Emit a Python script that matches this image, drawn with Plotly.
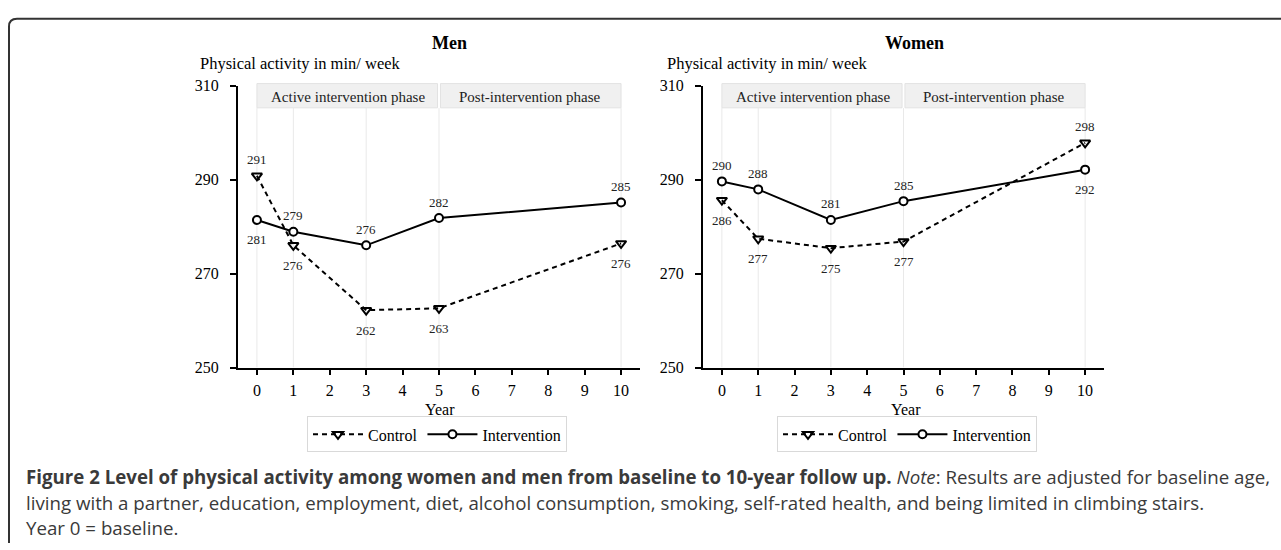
import plotly.graph_objects as go

# ---------------- data ----------------
years = [0, 1, 3, 5, 10]
year_ticks = list(range(0, 11))
y_ticks = [250, 270, 290, 310]

men_control = [290.8, 276.0, 262.2, 262.6, 276.4]
men_control_labels = ["291", "276", "262", "263", "276"]
men_control_pos = ["above", "below", "below", "below", "below"]

men_intervention = [281.4, 278.9, 276.0, 281.8, 285.1]
men_intervention_labels = ["281", "279", "276", "282", "285"]
men_intervention_pos = ["below", "above", "above", "above", "above"]

women_control = [285.6, 277.4, 275.4, 276.8, 297.8]
women_control_labels = ["286", "277", "275", "277", "298"]
women_control_pos = ["below", "below", "below", "below", "above"]

women_intervention = [289.6, 287.9, 281.4, 285.4, 292.1]
women_intervention_labels = ["290", "288", "281", "285", "292"]
women_intervention_pos = ["above", "above", "above", "above", "below"]

phase_names = ["Active intervention phase", "Post-intervention phase"]
phase_start = [0, 5]
phase_end = [5, 10]

panel_titles = ["Men", "Women"]
y_title = "Physical activity in min/ week"
x_title = "Year"

caption_lines = [
    "<b>Figure 2 Level of physical activity among women and men from baseline to 10-year follow up.</b> "
    "<i>Note</i>: Results are adjusted for baseline age,",
    "living with a partner, education, employment, diet, alcohol consumption, smoking, self-rated health, "
    "and being limited in climbing stairs.",
    "Year 0 = baseline.",
]

# ---------------- layout helpers ----------------
W, H = 1281, 550
def px(x):
    return x / W
def py(y):
    return 1 - y / H

SERIF = "Liberation Serif, Times New Roman, serif"
SANS = "Open Sans, Noto Sans, sans-serif"

panels = [
    dict(name="Men", ax="x", ay="y", legend="legend",
         control=men_control, ctl_lab=men_control_labels, ctl_pos=men_control_pos,
         inter=men_intervention, int_lab=men_intervention_labels, int_pos=men_intervention_pos,
         title_x=449, ytitle_x=198, year_x=440, legend_x=437, dom=(238, 640)),
    dict(name="Women", ax="x2", ay="y2", legend="legend2",
         control=women_control, ctl_lab=women_control_labels, ctl_pos=women_control_pos,
         inter=women_intervention, int_lab=women_intervention_labels, int_pos=women_intervention_pos,
         title_x=914, ytitle_x=665, year_x=906, legend_x=907, dom=(703, 1104)),
]

fig = go.Figure()
shapes = []
annotations = []

Y_TOP, Y_BOT = 80, 371

for i, p in enumerate(panels):
    fig.add_trace(go.Scatter(
        x=years, y=p["control"], name="Control", mode="lines+markers",
        xaxis=p["ax"], yaxis=p["ay"], legend=p["legend"],
        line=dict(color="black", width=2, dash="5px,4px"),
        marker=dict(symbol="triangle-down-open", size=9, color="black", line=dict(width=2)),
        cliponaxis=False,
    ))
    fig.add_trace(go.Scatter(
        x=years, y=p["inter"], name="Intervention", mode="lines+markers",
        xaxis=p["ax"], yaxis=p["ay"], legend=p["legend"],
        line=dict(color="black", width=2),
        marker=dict(symbol="circle", size=8, color="white", line=dict(color="black", width=2)),
        cliponaxis=False,
    ))

    xref = p["ax"]
    yref = p["ay"]
    for yr in years:
        shapes.append(dict(type="line", xref=xref, yref=yref, x0=yr, x1=yr, y0=250, y1=305.2,
                           line=dict(color="#e9e9e9", width=1), layer="below"))
    for nm, s, e in zip(phase_names, phase_start, phase_end):
        shapes.append(dict(type="rect", xref=xref, yref="paper",
                           x0=s + (0.04 if s > 0 else 0), x1=e - (0.04 if e < 10 else 0),
                           y0=py(103), y1=py(78),
                           fillcolor="#f0f0f0", line=dict(color="#e2e2e2", width=1), layer="above"))
        annotations.append(dict(x=(s + e) / 2, y=py(92), xref=xref, yref="paper",
                                text=nm, showarrow=False, xanchor="center", yanchor="middle",
                                font=dict(family=SERIF, size=15, color="#222")))
    for vals, labs, pos in [(p["control"], p["ctl_lab"], p["ctl_pos"]),
                            (p["inter"], p["int_lab"], p["int_pos"])]:
        for yr, v, lab, ps in zip(years, vals, labs, pos):
            annotations.append(dict(x=yr, y=v, xref=xref, yref=yref, text=lab, showarrow=False,
                                    xanchor="center", yanchor="middle",
                                    yshift=16 if ps == "above" else -20,
                                    font=dict(family=SERIF, size=13, color="#222")))
    annotations.append(dict(x=px(p["title_x"]), y=py(36), xref="paper", yref="paper",
                            text="<b>%s</b>" % panel_titles[i], showarrow=False,
                            xanchor="center", yanchor="middle",
                            font=dict(family=SERIF, size=18, color="black")))
    annotations.append(dict(x=px(p["ytitle_x"]), y=py(57), xref="paper", yref="paper",
                            text=y_title, showarrow=False, xanchor="left", yanchor="middle",
                            font=dict(family=SERIF, size=16.5, color="black")))
    annotations.append(dict(x=px(p["year_x"]), y=py(414), xref="paper", yref="paper",
                            text=x_title, showarrow=False, xanchor="center", yanchor="middle",
                            font=dict(family=SERIF, size=16, color="black")))

axis_common_x = dict(range=[-0.52, 10.52], tickvals=year_ticks, ticktext=[str(t) for t in year_ticks],
                     showline=True, linecolor="black", linewidth=2, ticks="outside", ticklen=5,
                     tickwidth=1.5, tickcolor="black", showgrid=False, zeroline=False,
                     tickfont=dict(family=SERIF, size=16, color="black"), ticklabelstandoff=2)
axis_common_y = dict(range=[250, 310], tickvals=y_ticks, showline=True, linecolor="black", linewidth=2,
                     ticks="outside", ticklen=6, tickwidth=1.5, tickcolor="black", showgrid=False,
                     zeroline=False, tickfont=dict(family=SERIF, size=16, color="black"),
                     ticklabelstandoff=8)

legend_common = dict(orientation="h", xanchor="center", yanchor="middle",
                     bordercolor="#d9d9d9", borderwidth=1, bgcolor="white", itemwidth=50,
                     font=dict(family=SERIF, size=16, color="black"))

m, w = panels[0], panels[1]
fig.update_layout(
    width=W, height=H, margin=dict(l=0, r=0, t=0, b=0),
    paper_bgcolor="white", plot_bgcolor="white",
    xaxis=dict(domain=[px(m["dom"][0]), px(m["dom"][1])], anchor="y", **axis_common_x),
    yaxis=dict(domain=[py(Y_BOT), py(Y_TOP)], anchor="x", **axis_common_y),
    xaxis2=dict(domain=[px(w["dom"][0]), px(w["dom"][1])], anchor="y2", **axis_common_x),
    yaxis2=dict(domain=[py(Y_BOT), py(Y_TOP)], anchor="x2", **axis_common_y),
    legend=dict(x=px(m["legend_x"]), y=py(440), **legend_common),
    legend2=dict(x=px(w["legend_x"]), y=py(440), **legend_common),
)

frame_path = "M %f,%f L %f,%f Q %f,%f %f,%f L %f,%f" % (
    px(9), py(552), px(9), py(19), px(9), py(11), px(17), py(11), px(1283), py(11))
shapes.append(dict(type="path", xref="paper", yref="paper", path=frame_path,
                   line=dict(color="#333", width=2)))

caption_y = [483, 510, 536]
for txt, cy in zip(caption_lines, caption_y):
    annotations.append(dict(x=px(24), y=py(cy), xref="paper", yref="paper", text=txt,
                            showarrow=False, xanchor="left", yanchor="middle",
                            font=dict(family=SANS, size=18.7, color="#3a3a3a")))

fig.update_layout(shapes=shapes, annotations=annotations)

fig.write_html("out.html", config={"displayModeBar": False},
               post_script="document.body.style.margin='0';")
